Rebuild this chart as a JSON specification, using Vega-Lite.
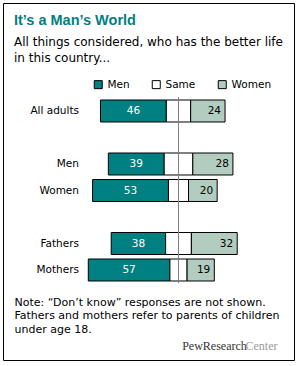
{
  "$schema": "https://vega.github.io/schema/vega-lite/v6.json",
  "width": 291,
  "height": 357,
  "autosize": {"type": "none"},
  "padding": {"left": 3, "top": 3, "right": 4, "bottom": 6},
  "background": "white",
  "config": {
    "view": {"stroke": "black", "strokeWidth": 1},
    "font": "DejaVu Sans"
  },
  "title": {
    "text": "It’s a Man’s World",
    "subtitle": ["All things considered, who has the better life", "in this country..."],
    "anchor": "start",
    "frame": "group",
    "orient": "top",
    "offset": -62,
    "dx": 11,
    "font": "Liberation Sans",
    "fontSize": 14.5,
    "fontWeight": "bold",
    "color": "#008080",
    "subtitleFont": "DejaVu Sans",
    "subtitleFontSize": 12,
    "subtitleColor": "black",
    "subtitleLineHeight": 16,
    "subtitlePadding": 9
  },
  "data": {
    "values": [
      {"group": "All adults", "men": 46, "same": 17, "women": 24},
      {"group": "Men", "men": 39, "same": 20, "women": 28},
      {"group": "Women", "men": 53, "same": 14, "women": 20},
      {"group": "Fathers", "men": 38, "same": 18, "women": 32},
      {"group": "Mothers", "men": 57, "same": 12, "women": 19}
    ]
  },
  "transform": [
    {"calculate": "-datum.same / 2 - datum.men", "as": "m0"},
    {"calculate": "-datum.same / 2", "as": "m1"},
    {"calculate": "-datum.same / 2 - datum.men / 2", "as": "mc"},
    {"calculate": "datum.same / 2", "as": "w0"},
    {"calculate": "datum.same / 2 + datum.women", "as": "w1"}
  ],
  "layer": [
    {
      "mark": {"type": "bar", "stroke": "black", "strokeWidth": 1},
      "encoding": {
        "y": {
          "field": "group", "type": "nominal",
          "scale": {
            "domain": ["All adults", "_a", "Men", "Women", "_b", "Fathers", "Mothers"],
            "range": [94.75, 280.25],
            "paddingInner": 0.17, "paddingOuter": 0.085
          },
          "axis": {
            "orient": "left", "title": null, "domain": false, "ticks": false,
            "labelPadding": 0, "offset": -75.5,
            "labelFont": "DejaVu Sans", "labelFontSize": 10.5, "labelColor": "black",
            "labelExpr": "indexof(datum.value, '_') == 0 ? '' : datum.value"
          }
        },
        "x": {
          "field": "m0", "type": "quantitative",
          "scale": {"domain": [-122.56, 80.66], "nice": false, "zero": false},
          "axis": {
            "orient": "bottom", "domain": false, "ticks": false, "labels": false, "grid": false,
            "title": ["Note: “Don’t know” responses are not shown.", "Fathers and mothers refer to parents of children", "under age 18."],
            "titleFont": "DejaVu Sans", "titleFontSize": 11, "titleFontWeight": "normal", "titleColor": "black",
            "titleAnchor": "start", "titleAlign": "left", "titleBaseline": "alphabetic",
            "titleX": 11, "titleY": -55, "titleLineHeight": 13.5
          }
        },
        "x2": {"field": "m1"},
        "color": {
          "datum": "Men",
          "scale": {"domain": ["Men", "Same", "Women"], "range": ["#008080", "#ffffff", "#b2cdbf"]},
          "legend": {
            "orient": "none", "legendX": 90, "legendY": 76, "direction": "horizontal", "title": null,
            "symbolType": "square", "symbolSize": 64, "symbolStrokeColor": "black", "symbolStrokeWidth": 1,
            "symbolOpacity": 1,
            "labelFont": "DejaVu Sans", "labelFontSize": 10.5, "labelColor": "black", "labelOffset": 4,
            "columnPadding": 20, "padding": 0
          }
        }
      }
    },
    {
      "mark": {"type": "bar", "stroke": "black", "strokeWidth": 1},
      "encoding": {
        "y": {"field": "group", "type": "nominal", "axis": null},
        "x": {"field": "m1", "type": "quantitative", "axis": null},
        "x2": {"field": "w0"},
        "color": {"datum": "Same"}
      }
    },
    {
      "mark": {"type": "bar", "stroke": "black", "strokeWidth": 1},
      "encoding": {
        "y": {"field": "group", "type": "nominal", "axis": null},
        "x": {"field": "w0", "type": "quantitative", "axis": null},
        "x2": {"field": "w1"},
        "color": {"datum": "Women"}
      }
    },
    {
      "mark": {"type": "rule", "color": "#808080", "strokeWidth": 1},
      "encoding": {
        "x": {
          "datum": 0, "type": "quantitative",
          "axis": {
            "orient": "top", "domain": false, "ticks": false, "labels": false, "grid": false,
            "title": "PewResearch", "titleFont": "Liberation Serif", "titleFontSize": 12,
            "titleFontWeight": "normal", "titleColor": "#333333",
            "titleAnchor": "start", "titleAlign": "left", "titleBaseline": "alphabetic",
            "titleX": 178.7, "titleY": 346.5, "titleAngle": 0
          }
        },
        "y": {
          "datum": "All adults", "type": "nominal", "bandPosition": -0.12,
          "axis": {
            "orient": "right", "domain": false, "ticks": false, "labels": false, "grid": false,
            "title": "Center", "titleFont": "Liberation Serif", "titleFontSize": 12,
            "titleFontWeight": "normal", "titleColor": "#9a9a9a",
            "titleAnchor": "start", "titleAlign": "left", "titleBaseline": "alphabetic",
            "titleAngle": 0, "titleX": -49, "titleY": 346.5
          }
        },
        "y2": {"datum": "Mothers", "bandPosition": 1.08}
      }
    },
    {
      "mark": {"type": "text", "color": "white", "font": "DejaVu Sans", "fontSize": 10.5, "align": "center", "baseline": "middle"},
      "encoding": {
        "y": {"field": "group", "type": "nominal", "axis": null},
        "x": {"field": "mc", "type": "quantitative", "axis": null},
        "text": {"field": "men", "type": "quantitative"}
      }
    },
    {
      "mark": {"type": "text", "color": "black", "font": "DejaVu Sans", "fontSize": 10.5, "align": "right", "baseline": "middle", "dx": -4},
      "encoding": {
        "y": {"field": "group", "type": "nominal", "axis": null},
        "x": {"field": "w1", "type": "quantitative", "axis": null},
        "text": {"field": "women", "type": "quantitative"}
      }
    }
  ],
  "resolve": {"axis": {"x": "independent", "y": "independent"}}
}
